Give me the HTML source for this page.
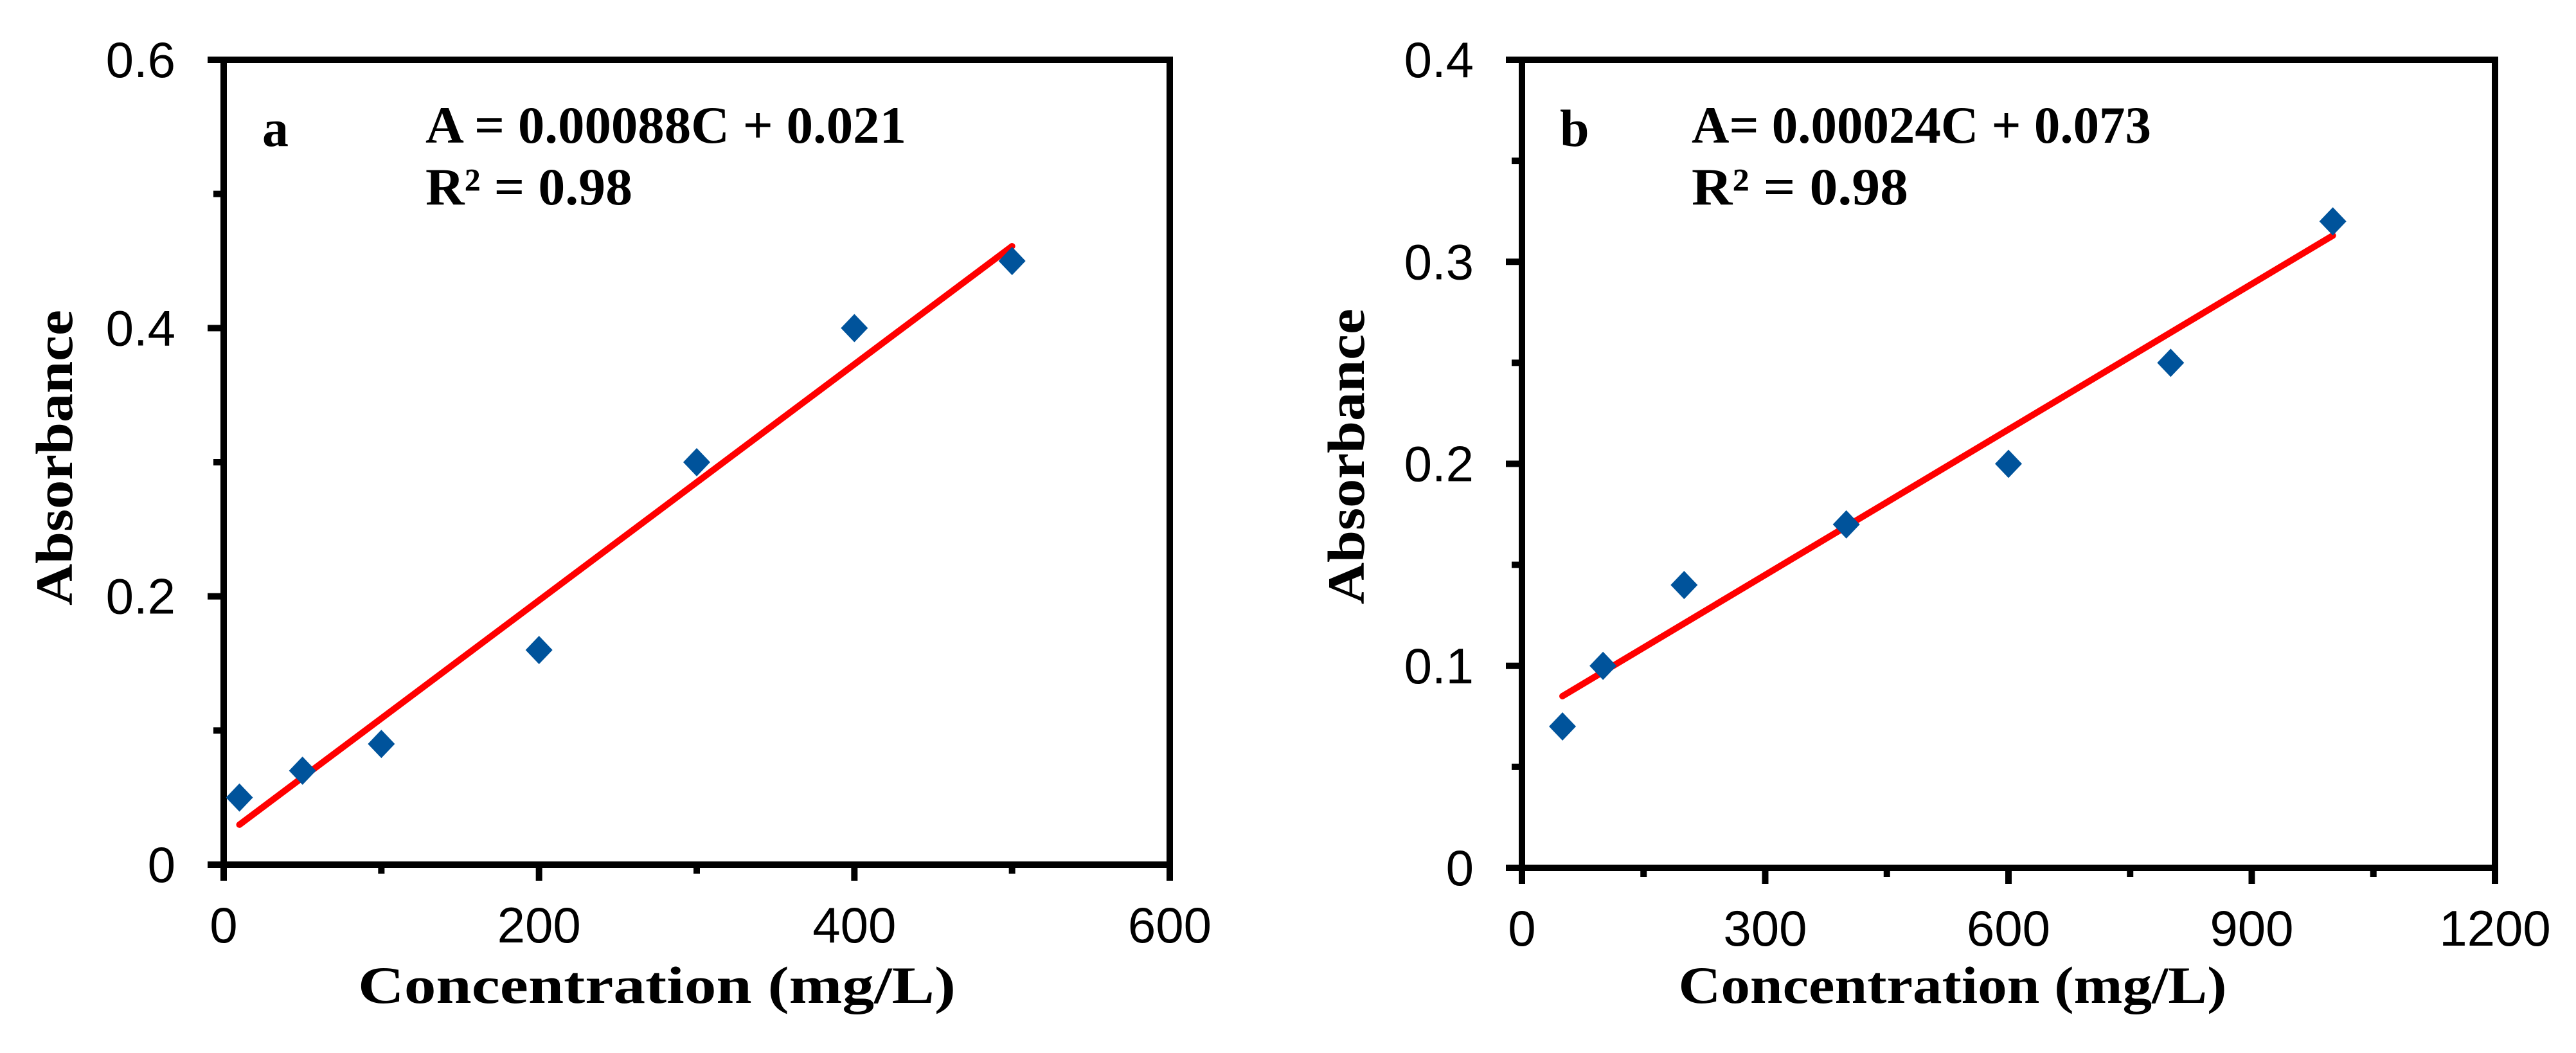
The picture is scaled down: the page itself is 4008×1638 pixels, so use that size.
<!DOCTYPE html>
<html><head><meta charset="utf-8"><style>
html,body{margin:0;padding:0;background:#fff;}
svg{display:block;}
.tick{font-family:"Liberation Sans",Arial,sans-serif;font-size:78px;fill:#000;}
.title{font-family:"Liberation Serif","Times New Roman",serif;font-weight:bold;font-size:82px;fill:#000;}
</style></head><body>
<svg id="chart" width="4008" height="1638" viewBox="0 0 4008 1638" xmlns="http://www.w3.org/2000/svg">
<g id="panelA"></g>
<g id="panelB"></g>
</svg>
<script>
const concA = [10, 50, 100, 200, 300, 400, 500];
const absA = [0.05, 0.07, 0.09, 0.16, 0.30, 0.40, 0.45];
const fitA = [0.00088, 0.021];
const xTicksA = [0, 100, 200, 300, 400, 500, 600];
const xLabelsA = ["0", "", "200", "", "400", "", "600"];
const yTicksA = [0, 0.1, 0.2, 0.3, 0.4, 0.5, 0.6];
const yLabelsA = ["0", "", "0.2", "", "0.4", "", "0.6"];

const concB = [50, 100, 200, 400, 600, 800, 1000];
const absB = [0.07, 0.10, 0.14, 0.17, 0.20, 0.25, 0.32];
const fitB = [0.00024, 0.073];
const xTicksB = [0, 150, 300, 450, 600, 750, 900, 1050, 1200];
const xLabelsB = ["0", "", "300", "", "600", "", "900", "", "1200"];
const yTicksB = [0, 0.05, 0.1, 0.15, 0.2, 0.25, 0.3, 0.35, 0.4];
const yLabelsB = ["0", "", "0.1", "", "0.2", "", "0.3", "", "0.4"];

const NS = "http://www.w3.org/2000/svg";
function mk(parent, tag, attrs, text) {
  const e = document.createElementNS(NS, tag);
  for (const k in attrs) e.setAttribute(k, attrs[k]);
  if (text !== undefined) e.textContent = text;
  parent.appendChild(e);
  return e;
}

function drawPanel(g, cfg) {
  const sx = v => cfg.x0 + (v - cfg.xmin) / (cfg.xmax - cfg.xmin) * (cfg.x1 - cfg.x0);
  const sy = v => cfg.y0 - (v - cfg.ymin) / (cfg.ymax - cfg.ymin) * (cfg.y0 - cfg.y1);
  const frame = mk(g, "rect", {x: cfg.x0, y: cfg.y1, width: cfg.x1 - cfg.x0, height: cfg.y0 - cfg.y1, fill: "none", stroke: "#000", "stroke-width": 10});
  
  
  cfg.xTicks.forEach((t, i) => {
    const major = cfg.xLabels[i] !== "";
    const x = sx(t);
    const tk = mk(g, "line", {x1: x, x2: x, y1: cfg.y0, y2: cfg.y0 + (major ? 25 : 14), stroke: "#000", "stroke-width": 10});
    
    
    if (major) {
      const lb = mk(g, "text", {x: x, y: cfg.y0 + 121, "text-anchor": "middle", class: "tick"}, cfg.xLabels[i]);
      
      
    }
  });
  cfg.yTicks.forEach((t, i) => {
    const major = cfg.yLabels[i] !== "";
    const y = sy(t);
    const tk = mk(g, "line", {x1: cfg.x0, x2: cfg.x0 - (major ? 25 : 16), y1: y, y2: y, stroke: "#000", "stroke-width": 10});
    
    
    if (major) {
      const lb = mk(g, "text", {x: cfg.x0 - 75, y: y + 27, "text-anchor": "end", class: "tick"}, cfg.yLabels[i]);
      
      
    }
  });
  const xs = cfg.conc;
  const xa = xs[0], xb = xs[xs.length - 1];
  const fl = mk(g, "line", {x1: sx(xa), y1: sy(cfg.fit[0] * xa + cfg.fit[1]), x2: sx(xb), y2: sy(cfg.fit[0] * xb + cfg.fit[1]), stroke: "#ff0000", "stroke-width": 10, "stroke-linecap": "round"});
  
  
  cfg.conc.forEach((c, i) => {
    const px = sx(c), py = sy(cfg.abs[i]);
    const d = mk(g, "polygon", {points: `${px},${py - 22} ${px + 21},${py} ${px},${py + 22} ${px - 21},${py}`, fill: "#00539b"});
    
    
  });
  const lt = mk(g, "text", {x: cfg.letterX, y: 227, class: "title"}, cfg.letter);
  
  
  const eq = mk(g, "text", {x: cfg.eqX, y: 222, class: "title", textLength: cfg.eqW, lengthAdjust: "spacingAndGlyphs"}, cfg.eq);
  
  
  const r2 = mk(g, "text", {x: cfg.eqX, y: 318, class: "title", textLength: cfg.r2W, lengthAdjust: "spacingAndGlyphs"}, "R² = 0.98");
  
  
  const xt = mk(g, "text", {x: cfg.xtX, y: 1560, "text-anchor": "middle", class: "title", textLength: cfg.xtW, lengthAdjust: "spacingAndGlyphs"}, "Concentration (mg/L)");
  
  
  const yt = mk(g, "text", {x: 0, y: 0, "text-anchor": "middle", class: "title", transform: `translate(${cfg.ytX},${cfg.ytY}) rotate(-90)`, textLength: 460, lengthAdjust: "spacingAndGlyphs"}, "Absorbance");
  
  
}

drawPanel(document.getElementById("panelA"), {
  x0: 348, x1: 1820, y0: 1345, y1: 93, xmin: 0, xmax: 600, ymin: 0, ymax: 0.6,
  conc: concA, abs: absA, fit: fitA, xTicks: xTicksA, xLabels: xLabelsA, yTicks: yTicksA, yLabels: yLabelsA,
  letter: "a", letterX: 408, eq: "A = 0.00088C + 0.021", eqX: 662, eqW: 748, r2W: 322,
  xtX: 1022, xtW: 930, ytX: 112, ytY: 712
});
drawPanel(document.getElementById("panelB"), {
  x0: 2368, x1: 3882, y0: 1350, y1: 93, xmin: 0, xmax: 1200, ymin: 0, ymax: 0.4,
  conc: concB, abs: absB, fit: fitB, xTicks: xTicksB, xLabels: xLabelsB, yTicks: yTicksB, yLabels: yLabelsB,
  letter: "b", letterX: 2427, eq: "A= 0.00024C + 0.073", eqX: 2632, eqW: 715, r2W: 337,
  xtX: 3038, xtW: 853, ytX: 2122, ytY: 710
});
</script>
</body></html>
